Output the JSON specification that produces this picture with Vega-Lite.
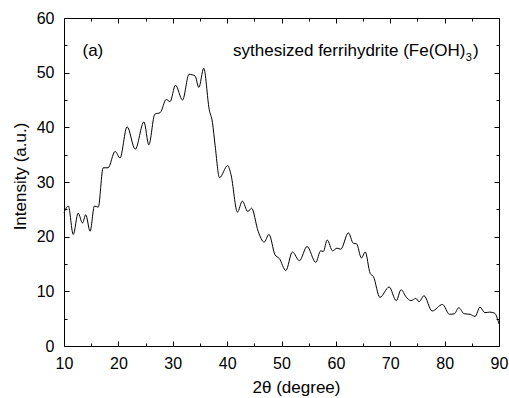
{
  "$schema": "https://vega.github.io/schema/vega-lite/v6.json",
  "width": 435,
  "height": 328,
  "autosize": {"type": "none"},
  "padding": {"left": 64, "top": 18, "right": 10, "bottom": 52},
  "background": "white",
  "config": {
    "view": {"stroke": null},
    "font": "Liberation Sans",
    "axis": {
      "grid": false,
      "domainColor": "black",
      "domainWidth": 1,
      "tickColor": "black",
      "tickWidth": 1,
      "labelColor": "black",
      "titleColor": "black",
      "labelFont": "Liberation Sans",
      "titleFont": "Liberation Sans",
      "labelFontSize": 16,
      "titleFontSize": 17,
      "titleFontWeight": "normal",
      "labelFlush": false,
      "labelOverlap": false
    }
  },
  "datasets": {
    "xrd": [
      {"two_theta": 10.0, "intensity": 24.4},
      {"two_theta": 10.8, "intensity": 25.6},
      {"two_theta": 11.7, "intensity": 20.4},
      {"two_theta": 12.6, "intensity": 24.3},
      {"two_theta": 13.4, "intensity": 22.5},
      {"two_theta": 14.0, "intensity": 24.0},
      {"two_theta": 14.8, "intensity": 21.0},
      {"two_theta": 15.6, "intensity": 25.6},
      {"two_theta": 16.3, "intensity": 25.4},
      {"two_theta": 17.2, "intensity": 32.6},
      {"two_theta": 18.1, "intensity": 32.6},
      {"two_theta": 19.4, "intensity": 35.6},
      {"two_theta": 20.3, "intensity": 34.4},
      {"two_theta": 21.6, "intensity": 40.1},
      {"two_theta": 23.1, "intensity": 36.0},
      {"two_theta": 24.7, "intensity": 41.0},
      {"two_theta": 25.6, "intensity": 36.8},
      {"two_theta": 26.7, "intensity": 42.4},
      {"two_theta": 27.7, "intensity": 42.7},
      {"two_theta": 28.8, "intensity": 45.1},
      {"two_theta": 29.5, "intensity": 44.7},
      {"two_theta": 30.5, "intensity": 47.7},
      {"two_theta": 31.8, "intensity": 45.0},
      {"two_theta": 33.0, "intensity": 49.7},
      {"two_theta": 34.1, "intensity": 49.4},
      {"two_theta": 34.8, "intensity": 47.3},
      {"two_theta": 35.7, "intensity": 50.8},
      {"two_theta": 36.7, "intensity": 43.3},
      {"two_theta": 37.3, "intensity": 40.9},
      {"two_theta": 37.8, "intensity": 36.6},
      {"two_theta": 38.6, "intensity": 30.8},
      {"two_theta": 40.1, "intensity": 33.0},
      {"two_theta": 40.7, "intensity": 31.4},
      {"two_theta": 41.9, "intensity": 24.5},
      {"two_theta": 42.8, "intensity": 26.5},
      {"two_theta": 43.8, "intensity": 24.6},
      {"two_theta": 44.5, "intensity": 25.2},
      {"two_theta": 45.7, "intensity": 21.0},
      {"two_theta": 46.8, "intensity": 19.0},
      {"two_theta": 47.7, "intensity": 20.4},
      {"two_theta": 48.8, "intensity": 16.7},
      {"two_theta": 49.6, "intensity": 16.0},
      {"two_theta": 50.8, "intensity": 13.8},
      {"two_theta": 52.0, "intensity": 17.2},
      {"two_theta": 53.3, "intensity": 15.6},
      {"two_theta": 54.7, "intensity": 18.2},
      {"two_theta": 56.3, "intensity": 15.3},
      {"two_theta": 57.2, "intensity": 17.4},
      {"two_theta": 57.7, "intensity": 17.3},
      {"two_theta": 58.4, "intensity": 19.4},
      {"two_theta": 59.4, "intensity": 17.4},
      {"two_theta": 60.2, "intensity": 17.9},
      {"two_theta": 60.9, "intensity": 17.7},
      {"two_theta": 62.3, "intensity": 20.7},
      {"two_theta": 63.2, "intensity": 18.8},
      {"two_theta": 63.8, "intensity": 18.7},
      {"two_theta": 64.7, "intensity": 16.1},
      {"two_theta": 65.4, "intensity": 17.2},
      {"two_theta": 66.3, "intensity": 13.3},
      {"two_theta": 66.9, "intensity": 12.7},
      {"two_theta": 68.1, "intensity": 8.9},
      {"two_theta": 69.8, "intensity": 10.8},
      {"two_theta": 71.1, "intensity": 8.3},
      {"two_theta": 72.0, "intensity": 10.3},
      {"two_theta": 72.9, "intensity": 9.0},
      {"two_theta": 73.8, "intensity": 8.3},
      {"two_theta": 74.7, "intensity": 8.7},
      {"two_theta": 75.3, "intensity": 8.1},
      {"two_theta": 76.2, "intensity": 9.2},
      {"two_theta": 77.7, "intensity": 6.4},
      {"two_theta": 79.6, "intensity": 7.6},
      {"two_theta": 80.9, "intensity": 5.8},
      {"two_theta": 81.8, "intensity": 5.9},
      {"two_theta": 82.6, "intensity": 7.0},
      {"two_theta": 83.6, "intensity": 5.9},
      {"two_theta": 84.7, "intensity": 5.8},
      {"two_theta": 85.6, "intensity": 5.4},
      {"two_theta": 86.5, "intensity": 7.1},
      {"two_theta": 87.4, "intensity": 6.1},
      {"two_theta": 88.3, "intensity": 6.2},
      {"two_theta": 89.2, "intensity": 6.0},
      {"two_theta": 90.0, "intensity": 4.0}
    ],
    "notes": [
      {"role": "main", "x": 13.4, "y": 53.0, "text": "(a)"},
      {"role": "main", "x": 41.1, "y": 53.0, "text": "sythesized ferrihydrite (Fe(OH)"},
      {"role": "sub", "x": 83.9, "y": 52.2, "text": "3"},
      {"role": "main", "x": 85.2, "y": 53.0, "text": ")"}
    ]
  },
  "layer": [
    {
      "data": {"name": "xrd"},
      "mark": {"type": "line", "color": "black", "strokeWidth": 1, "interpolate": "monotone"},
      "encoding": {
        "x": {
          "field": "two_theta", "type": "quantitative",
          "scale": {"domain": [10, 90], "nice": false, "zero": false},
          "axis": {
            "orient": "bottom",
            "values": [10, 15, 20, 25, 30, 35, 40, 45, 50, 55, 60, 65, 70, 75, 80, 85, 90],
            "labelExpr": "datum.value % 10 === 0 ? datum.label : ''",
            "tickSize": {"condition": {"test": "datum.value % 10 === 0", "value": -5}, "value": -3},
            "labelPadding": 14,
            "title": "2θ (degree)",
            "titleX": 232,
            "titleY": 46,
            "titleAlign": "center",
            "titleBaseline": "alphabetic"
          }
        },
        "y": {
          "field": "intensity", "type": "quantitative",
          "scale": {"domain": [0, 60], "nice": false},
          "axis": {
            "orient": "left",
            "values": [0, 5, 10, 15, 20, 25, 30, 35, 40, 45, 50, 55, 60],
            "labelExpr": "datum.value % 10 === 0 ? datum.label : ''",
            "tickSize": {"condition": {"test": "datum.value % 10 === 0", "value": -5}, "value": -3},
            "labelPadding": 15,
            "title": "Intensity (a.u.)",
            "titleX": -39,
            "titleY": 158,
            "titleAngle": 270,
            "titleAlign": "center",
            "titleBaseline": "alphabetic"
          }
        }
      }
    },
    {
      "data": {"name": "xrd"},
      "mark": {"type": "line", "strokeOpacity": 0},
      "encoding": {
        "x": {
          "field": "two_theta", "type": "quantitative",
          "axis": {
            "orient": "top",
            "values": [10, 15, 20, 25, 30, 35, 40, 45, 50, 55, 60, 65, 70, 75, 80, 85, 90],
            "labels": false,
            "tickSize": {"condition": {"test": "datum.value % 10 === 0", "value": -5}, "value": -3},
            "title": null
          }
        },
        "y": {
          "field": "intensity", "type": "quantitative",
          "axis": {
            "orient": "right",
            "values": [0, 5, 10, 15, 20, 25, 30, 35, 40, 45, 50, 55, 60],
            "labels": false,
            "tickSize": {"condition": {"test": "datum.value % 10 === 0", "value": -5}, "value": -3},
            "title": null
          }
        }
      }
    },
    {
      "data": {"name": "notes"},
      "transform": [{"filter": "datum.role === 'main'"}],
      "mark": {"type": "text", "font": "Liberation Sans", "fontSize": 17, "align": "left", "baseline": "alphabetic", "color": "black"},
      "encoding": {
        "x": {"field": "x", "type": "quantitative", "axis": null},
        "y": {"field": "y", "type": "quantitative", "axis": null},
        "text": {"field": "text"}
      }
    },
    {
      "data": {"name": "notes"},
      "transform": [{"filter": "datum.role === 'sub'"}],
      "mark": {"type": "text", "font": "Liberation Sans", "fontSize": 11, "align": "left", "baseline": "alphabetic", "color": "black"},
      "encoding": {
        "x": {"field": "x", "type": "quantitative", "axis": null},
        "y": {"field": "y", "type": "quantitative", "axis": null},
        "text": {"field": "text"}
      }
    }
  ],
  "resolve": {"axis": {"x": "independent", "y": "independent"}}
}
